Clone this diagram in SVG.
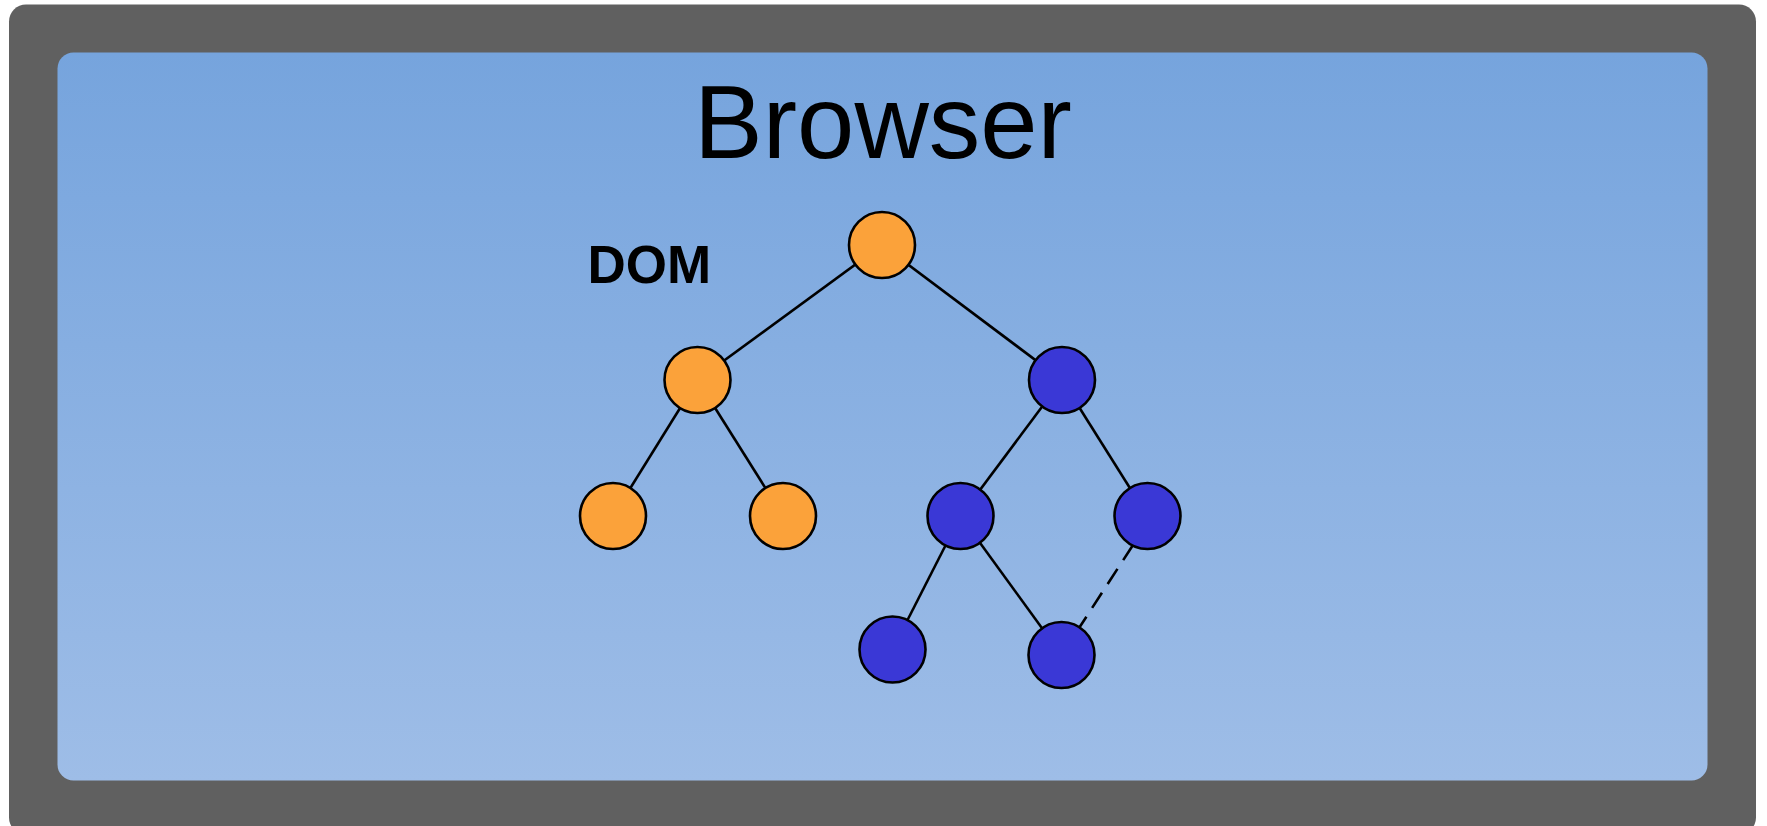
<svg xmlns="http://www.w3.org/2000/svg" width="1767" height="826" viewBox="0 0 1767 826">
  <defs>
    <linearGradient id="screen" x1="0" y1="0" x2="0" y2="1">
      <stop offset="0" stop-color="#76a4dd"/>
      <stop offset="1" stop-color="#9ebde7"/>
    </linearGradient>
    <style>
      .edge { stroke: #000; stroke-width: 2.6; fill: none; }
      .dashed { stroke-dasharray: 18 10.5; }
      .node { stroke: #000; stroke-width: 2.6; }
      .orange { fill: #fba23a; }
      .blue { fill: #3a38d6; }
      .title { font-family: "Liberation Sans", Arial, sans-serif; font-size: 103px; fill: #000; }
      .label { font-family: "Liberation Sans", Arial, sans-serif; font-size: 53px; font-weight: bold; fill: #000; }
    </style>
  </defs>

  <rect width="1767" height="826" fill="#ffffff"/>

  <!-- window frame -->
  <g id="frame">
    <rect x="9" y="4.5" width="1747" height="830" rx="17" fill="#606060"/>
    <rect x="57.5" y="52.5" width="1650" height="728" rx="16" fill="url(#screen)"/>
  </g>

  <g id="title">
    <text class="title" x="883" y="158" text-anchor="middle">Browser</text>
  </g>
  <g id="dom-label">
    <text class="label" x="587.5" y="283">DOM</text>
  </g>

  <!-- tree edges -->
  <g id="connectors">
    <line class="edge" x1="882" y1="245" x2="697.5" y2="380"/>
    <line class="edge" x1="882" y1="245" x2="1062" y2="380"/>
    <line class="edge" x1="697.5" y1="380" x2="613" y2="516"/>
    <line class="edge" x1="697.5" y1="380" x2="783" y2="516"/>
    <line class="edge" x1="1062" y1="380" x2="960.5" y2="516"/>
    <line class="edge" x1="1062" y1="380" x2="1147.5" y2="516"/>
    <line class="edge" x1="960.5" y1="516" x2="892.5" y2="649.5"/>
    <line class="edge" x1="960.5" y1="516" x2="1061.5" y2="655"/>
    <line class="edge dashed" x1="1133" y1="545" x2="1061.5" y2="655"/>
  </g>

  <!-- tree nodes -->
  <g id="n-root"><circle class="node orange" cx="882" cy="245" r="33"/></g>
  <g id="n-left"><circle class="node orange" cx="697.5" cy="380" r="33"/></g>
  <g id="n-right"><circle class="node blue" cx="1062" cy="380" r="33"/></g>
  <g id="n-left-left"><circle class="node orange" cx="613" cy="516" r="33"/></g>
  <g id="n-left-right"><circle class="node orange" cx="783" cy="516" r="33"/></g>
  <g id="n-right-left"><circle class="node blue" cx="960.5" cy="516" r="33"/></g>
  <g id="n-right-right"><circle class="node blue" cx="1147.5" cy="516" r="33"/></g>
  <g id="n-rl-left"><circle class="node blue" cx="892.5" cy="649.5" r="33"/></g>
  <g id="n-rl-right"><circle class="node blue" cx="1061.5" cy="655" r="33"/></g>
</svg>
